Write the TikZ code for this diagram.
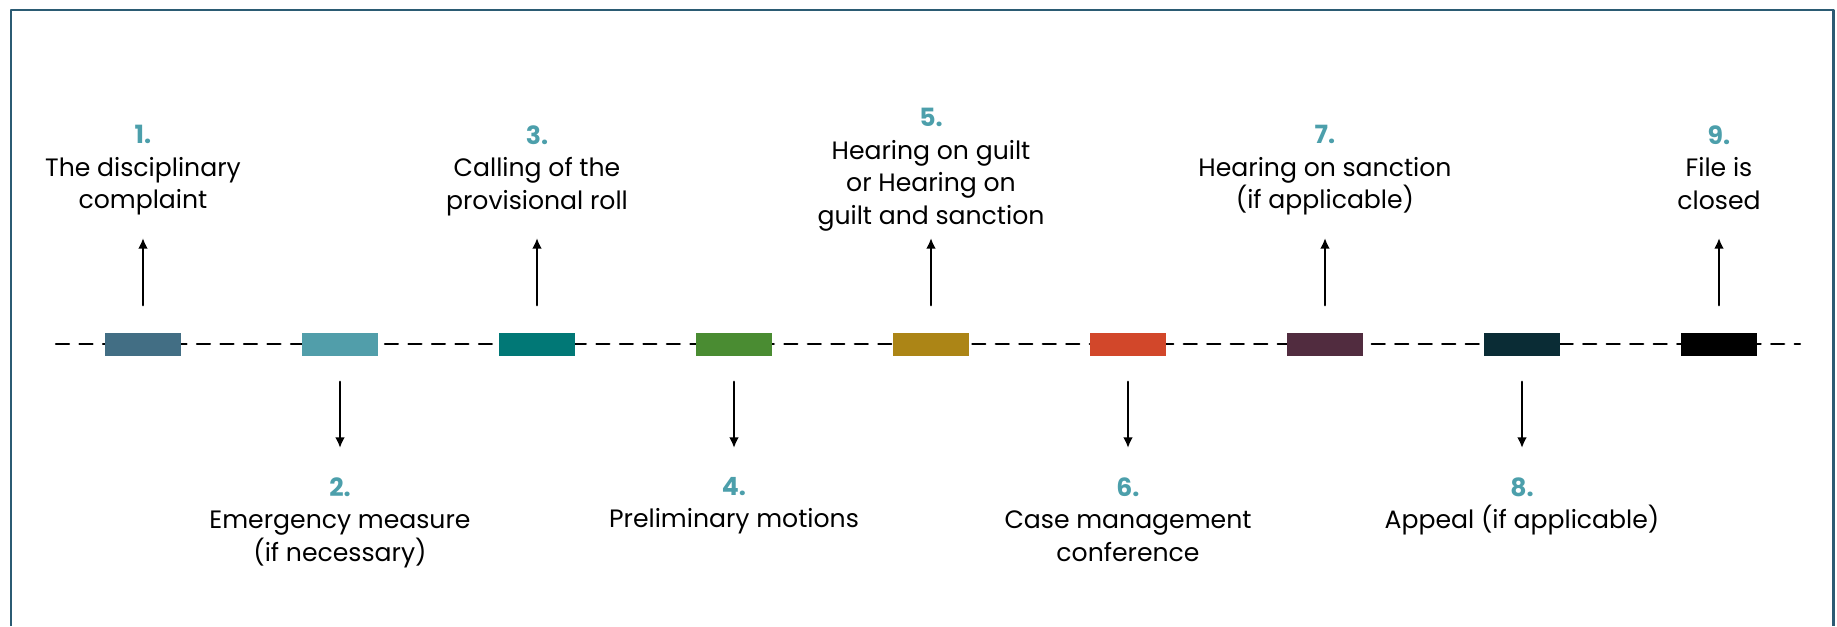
\documentclass[tikz,border=0pt]{standalone}
\usepackage{fontspec}
\setmainfont{Poppins}
\usetikzlibrary{arrows.meta}

\definecolor{frameblue}{HTML}{2B5B73}
\definecolor{numteal}{HTML}{4C9FAB}
\definecolor{stepa}{HTML}{426E84}
\definecolor{stepb}{HTML}{519EAA}
\definecolor{stepc}{HTML}{017876}
\definecolor{stepd}{HTML}{4A8C32}
\definecolor{stepe}{HTML}{AC8516}
\definecolor{stepf}{HTML}{D2472A}
\definecolor{stepg}{HTML}{512C3F}
\definecolor{steph}{HTML}{0A2C35}
\definecolor{stepi}{HTML}{000000}

\newcommand{\stepno}[1]{{\bfseries\color{numteal}#1}}

\begin{document}
\begin{tikzpicture}[x=0.02cm,y=-0.02cm,line cap=round,line join=round,
    >={Latex[length=6pt,width=5.5pt]},
    bar/.style={minimum width=1.52cm,minimum height=0.46cm,inner sep=0pt},
    steptext/.style={align=center,anchor=north,inner sep=0pt,
      font=\fontsize{14.3}{18.5}\selectfont},
    uparrow/.style={->,line width=1.5pt,shorten <=0.54cm},
    downarrow/.style={->,line width=1.5pt,shorten <=0.52cm}]
  \useasboundingbox (0,0) rectangle (1837,626);
  % frame, open at the bottom
  \draw[frameblue,line width=1.7pt,line cap=butt] (11,626) -- (11,10) -- (1833,10) -- (1833,626);
  % time line
  \draw[line width=1.3pt,dash pattern=on 0.26cm off 0.21cm] (56,344) -- (1800,344);
  % steps on the line
  \node[bar,fill=stepa] (bar1) at (143,344) {};
  \node[bar,fill=stepb] (bar2) at (340,344) {};
  \node[bar,fill=stepc] (bar3) at (537,344) {};
  \node[bar,fill=stepd] (bar4) at (734,344) {};
  \node[bar,fill=stepe] (bar5) at (931,344) {};
  \node[bar,fill=stepf] (bar6) at (1128,344) {};
  \node[bar,fill=stepg] (bar7) at (1325,344) {};
  \node[bar,fill=steph] (bar8) at (1522,344) {};
  \node[bar,fill=stepi] (bar9) at (1719,344) {};
  % arrow ends
  \coordinate (tip1) at (143,238);
  \coordinate (tip3) at (537,238);
  \coordinate (tip5) at (931,238);
  \coordinate (tip7) at (1325,238);
  \coordinate (tip9) at (1719,238);
  \coordinate (tip2) at (340,448);
  \coordinate (tip4) at (734,448);
  \coordinate (tip6) at (1128,448);
  \coordinate (tip8) at (1522,448);
  \draw[uparrow] (bar1) -- (tip1);
  \draw[uparrow] (bar3) -- (tip3);
  \draw[uparrow] (bar5) -- (tip5);
  \draw[uparrow] (bar7) -- (tip7);
  \draw[uparrow] (bar9) -- (tip9);
  \draw[downarrow] (bar2) -- (tip2);
  \draw[downarrow] (bar4) -- (tip4);
  \draw[downarrow] (bar6) -- (tip6);
  \draw[downarrow] (bar8) -- (tip8);
  % texts above
  \node[steptext] (lab1) at (143,125) {\stepno{1.}\\The disciplinary\\complaint};
  \node[steptext] (lab3) at (537,125) {\stepno{3.}\\Calling of the\\provisional roll};
  \node[steptext] (lab5) at (931,108) {\stepno{5.}\\Hearing on guilt\\or Hearing on\\guilt and sanction};
  \node[steptext] (lab7) at (1325,125) {\stepno{7.}\\Hearing on sanction\\(if applicable)};
  \node[steptext] (lab9) at (1719,125) {\stepno{9.}\\File is\\closed};
  % texts below
  \node[steptext] (lab2) at (340,477) {\stepno{2.}\\Emergency measure\\(if necessary)};
  \node[steptext] (lab4) at (734,477) {\stepno{4.}\\Preliminary motions};
  \node[steptext] (lab6) at (1128,477) {\stepno{6.}\\Case management\\conference};
  \node[steptext] (lab8) at (1522,477) {\stepno{8.}\\Appeal (if applicable)};
\end{tikzpicture}
\end{document}
